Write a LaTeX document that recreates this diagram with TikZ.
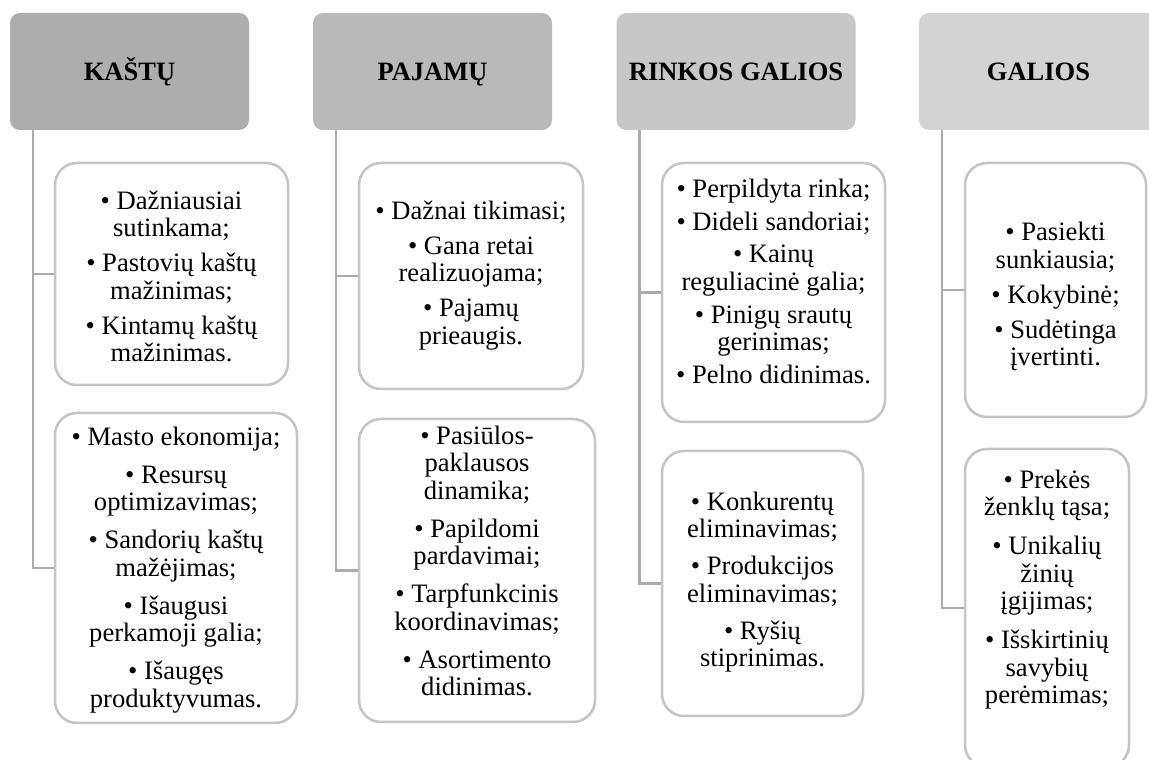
\documentclass[tikz,border=0pt]{standalone}
\usepackage{fontspec}
\setmainfont{Liberation Serif}
\setlength{\lineskiplimit}{-30pt}
\definecolor{head1}{HTML}{ADADAD}
\definecolor{head2}{HTML}{B9B9B9}
\definecolor{head3}{HTML}{C7C7C7}
\definecolor{head4}{HTML}{D3D3D3}
\definecolor{boxline}{HTML}{C4C4C4}
\definecolor{connline}{HTML}{ABABAB}
\begin{document}
\begin{tikzpicture}[x=1pt,y=1pt,
  head/.style={rounded corners=10pt, minimum width=239pt, minimum height=117pt,
    inner sep=0pt, text height=17.5pt, text depth=0pt,
    font=\fontsize{26.5}{28}\selectfont\bfseries},
  item/.style={draw=boxline, line width=2.5pt, rounded corners=22pt, fill=white,
    inner sep=0pt},
  lines/.style={align=center, inner sep=0pt, anchor=north,
    font=\fontsize{26.6}{27.5}\selectfont},
  conn/.style={draw=connline, line width=2.5pt}]
\useasboundingbox (0,0) rectangle (1149,760);
\clip (0,0) rectangle (1149,760);
\fill[white] (0,0) rectangle (1149,760);

% column headers
\node[head, fill=head1] (h1) at (129.5,688.5) {KAŠTŲ};
\node[head, fill=head2] (h2) at (432.5,688.5) {PAJAMŲ};
\node[head, fill=head3] (h3) at (736,688.5) {RINKOS GALIOS};
\node[head, fill=head4] (h4) at (1038.5,688.5) {GALIOS};

% column 1
\node[item, minimum width=233pt, minimum height=222pt] (a1) at (171.5,486) {};
\node[lines] (a1t) at (171.5,569.5) {%
  • Dažniausiai\\ sutinkama;\\[7.5pt]
  • Pastovių kaštų\\ mažinimas;\\[7.5pt]
  • Kintamų kaštų\\ mažinimas.};
\node[item, minimum width=242pt, minimum height=310pt] (a2) at (176,192) {};
\node[lines] (a2t) at (176,333.3) {%
  • Masto ekonomija;\\[10.5pt]
  • Resursų\\ optimizavimas;\\[10.5pt]
  • Sandorių kaštų\\ mažėjimas;\\[10.5pt]
  • Išaugusi\\ perkamoji galia;\\[10.5pt]
  • Išaugęs\\ produktyvumas.};

% column 2
\node[item, minimum width=224pt, minimum height=226pt] (b1) at (471,484) {};
\node[lines] (b1t) at (471,559.3) {%
  • Dažnai tikimasi;\\[7.5pt]
  • Gana retai\\ realizuojama;\\[7.5pt]
  • Pajamų\\ prieaugis.};
\node[item, minimum width=236pt, minimum height=303pt] (b2) at (477,189.5) {};
\node[lines] (b2t) at (477,334.3) {%
  • Pasiūlos-\\ paklausos\\ dinamika;\\[10.5pt]
  • Papildomi\\ pardavimai;\\[10.5pt]
  • Tarpfunkcinis\\ koordinavimas;\\[10.5pt]
  • Asortimento\\ didinimas.};

% column 3
\node[item, minimum width=223pt, minimum height=259pt] (c1) at (773.5,467.5) {};
\node[lines] (c1t) at (773.5,581.3) {%
  • Perpildyta rinka;\\[5.25pt]
  • Dideli sandoriai;\\[5.25pt]
  • Kainų\\ reguliacinė galia;\\[5.25pt]
  • Pinigų srautų\\ gerinimas;\\[5.25pt]
  • Pelno didinimas.};
\node[item, minimum width=201pt, minimum height=265pt] (c2) at (762.5,176.5) {};
\node[lines] (c2t) at (762.5,268.3) {%
  • Konkurentų\\ eliminavimas;\\[9.5pt]
  • Produkcijos\\ eliminavimas;\\[9.5pt]
  • Ryšių\\ stiprinimas.};

% column 4
\node[item, minimum width=181pt, minimum height=254pt] (d1) at (1055.5,470) {};
\node[lines] (d1t) at (1055.5,537.8) {%
  • Pasiekti\\ sunkiausia;\\[7.5pt]
  • Kokybinė;\\[7.5pt]
  • Sudėtinga\\ įvertinti.};
\node[item, minimum width=164pt, minimum height=318pt] (d2) at (1047,152) {};
\node[lines] (d2t) at (1047,290.3) {%
  • Prekės\\ ženklų tąsa;\\[11.5pt]
  • Unikalių\\ žinių\\ įgijimas;\\[11.5pt]
  • Išskirtinių\\ savybių\\ perėmimas;};

% connectors from each header to its boxes
\foreach \h/\u/\l in {h1/a1/a2, h2/b1/b2, h3/c1/c2, h4/d1/d2} {
  \draw[conn] ([xshift=23pt]\h.south west) |- (\u.west);
  \draw[conn] ([xshift=23pt]\h.south west) |- (\l.west);
}
\end{tikzpicture}
\end{document}
